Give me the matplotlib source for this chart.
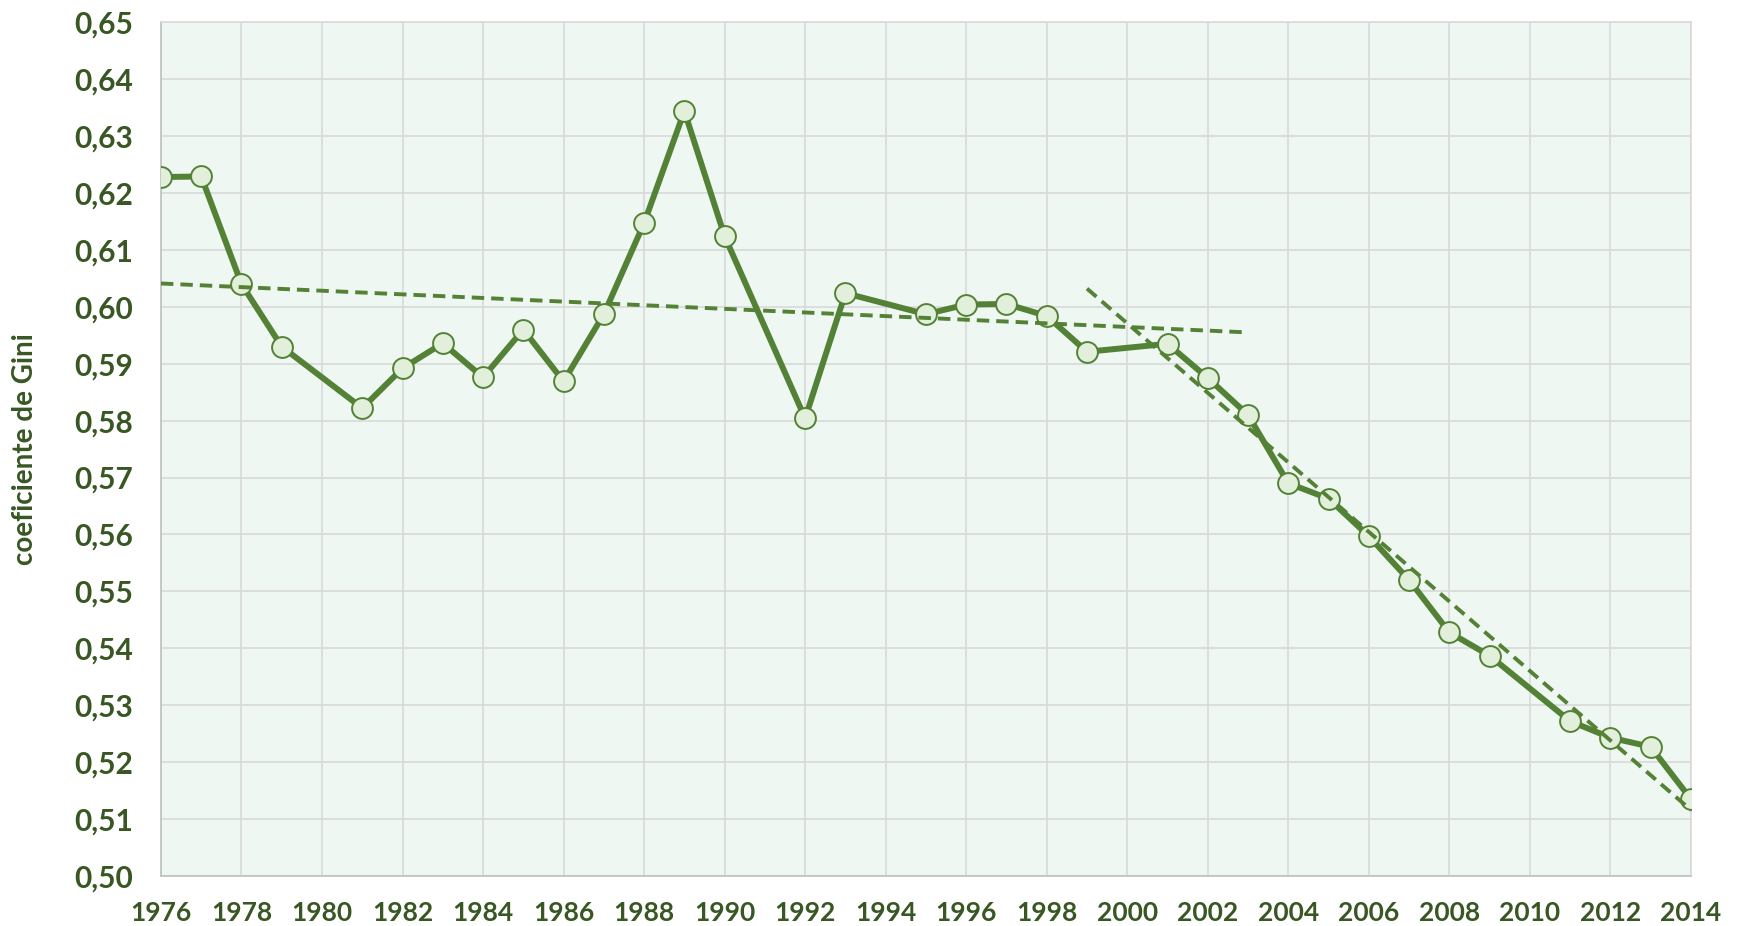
import matplotlib.pyplot as plt
from matplotlib.ticker import FuncFormatter

# Gini coefficient by year (no data for 1980, 1991, 1994, 2000, 2010)
years = [1976, 1977, 1978, 1979, 1981, 1982, 1983, 1984, 1985, 1986, 1987,
         1988, 1989, 1990, 1992, 1993, 1995, 1996, 1997, 1998, 1999, 2001,
         2002, 2003, 2004, 2005, 2006, 2007, 2008, 2009, 2011, 2012, 2013, 2014]
gini = [0.6228, 0.6229, 0.6040, 0.5930, 0.5822, 0.5892, 0.5936, 0.5876, 0.5960,
        0.5869, 0.5987, 0.6147, 0.6344, 0.6124, 0.5804, 0.6024, 0.5987, 0.6004,
        0.6005, 0.5984, 0.5921, 0.5935, 0.5875, 0.5810, 0.5690, 0.5663, 0.5597,
        0.5520, 0.5428, 0.5387, 0.5272, 0.5243, 0.5227, 0.5135]

# trend lines (endpoints)
trend1_years = [1976, 2003]
trend1_vals = [0.6041, 0.5955]
trend2_years = [1999, 2014]
trend2_vals = [0.6032, 0.5116]

x_ticks = list(range(1976, 2015, 2))
y_ticks = [0.50, 0.51, 0.52, 0.53, 0.54, 0.55, 0.56, 0.57, 0.58, 0.59,
           0.60, 0.61, 0.62, 0.63, 0.64, 0.65]

green = '#538135'
dark_green = '#385723'
plt.rcParams['font.family'] = ['Lato', 'DejaVu Sans']

fig = plt.figure(figsize=(17.4, 9.26), dpi=100)
ax = fig.add_axes([0.0925, 0.054, 0.8793, 0.922])
ax.set_facecolor('#EFF7F2')

ax.plot(years, gini, color=green, linewidth=4.3, marker='o', markersize=15,
        markerfacecolor='#E2EFDA', markeredgecolor=green, markeredgewidth=1.4, zorder=3)
ax.plot(trend1_years, trend1_vals, color=green, linewidth=2.8, dashes=(3.2, 1.8), zorder=4)
ax.plot(trend2_years, trend2_vals, color=green, linewidth=2.8, dashes=(3.2, 1.8), zorder=4)

ax.set_xlim(1976, 2014)
ax.set_ylim(0.50, 0.65)
ax.set_xticks(x_ticks)
ax.set_yticks(y_ticks)
ax.yaxis.set_major_formatter(FuncFormatter(lambda v, p: f'{v:.2f}'.replace('.', ',')))
ax.grid(True, color='#D9D9D9', linewidth=1.2, zorder=0)
ax.set_axisbelow(True)
ax.tick_params(axis='x', length=0, pad=18)
ax.tick_params(axis='y', length=0, pad=20)
for lab in ax.get_xticklabels():
    lab.set_fontsize(19)
    lab.set_fontweight('bold')
    lab.set_color(dark_green)
for lab in ax.get_yticklabels():
    lab.set_fontsize(21.5)
    lab.set_fontweight('bold')
    lab.set_color(dark_green)
for s in ax.spines.values():
    s.set_color('#D9D9D9')
    s.set_linewidth(1.2)
ax.spines['left'].set_color('#BFBFBF')
ax.spines['bottom'].set_color('#BFBFBF')

ax.set_ylabel('coeficiente de Gini', fontsize=20, fontweight='bold', color=dark_green, labelpad=26)

fig.savefig('out.png', dpi=100)
